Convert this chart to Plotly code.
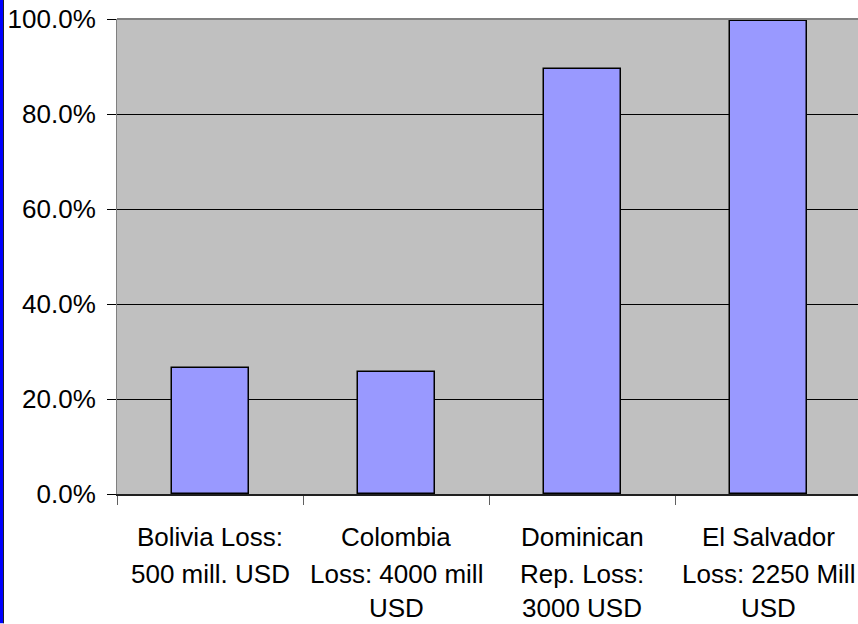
import plotly.graph_objects as go

# Share of GDP lost per country
categories = ["Bolivia", "Colombia", "Dominican Rep.", "El Salvador"]
label_lines = [
    ["Bolivia Loss:", "500 mill. USD"],
    ["Colombia", "Loss: 4000 mill", "USD"],
    ["Dominican", "Rep. Loss:", "3000 USD"],
    ["El Salvador", "Loss: 2250 Mill", "USD"],
]
loss_share = [0.266, 0.257, 0.894, 0.995]
y_ticks = [0, 0.2, 0.4, 0.6, 0.8, 1.0]

W, H = 858, 624
M_L, M_R, M_T, M_B = 117, 0, 19, 129.5
plot_w = W - M_L - M_R
plot_h = H - M_T - M_B
cat_px = 186  # pixel width of one category slot
FONT = "Arial, Liberation Sans, sans-serif"
FS = 26

fig = go.Figure(
    go.Bar(
        x=categories,
        y=loss_share,
        width=0.414,
        marker=dict(color="#9999FF", line=dict(color="#000000", width=1.5)),
    )
)

# multi-line category labels drawn line by line below the axis
line_offsets = [43, 79.5, 114]
annotations = []
for cat, lines in zip(categories, label_lines):
    for i, txt in enumerate(lines):
        annotations.append(
            dict(
                x=cat, xref="x", y=0, yref="paper",
                yanchor="middle", xanchor="center",
                yshift=-line_offsets[i],
                text=txt, showarrow=False,
                font=dict(family=FONT, size=FS, color="#000000"),
            )
        )

shapes = [
    # top border of the plot area
    dict(type="line", xref="paper", yref="paper", x0=0, x1=1, y0=1, y1=1,
         line=dict(color="#808080", width=2)),
    # blue strip along the left edge of the page
    dict(type="rect", xref="paper", yref="paper",
         x0=-M_L / plot_w, x1=-(M_L - 3) / plot_w,
         y0=-M_B / plot_h, y1=1 + M_T / plot_h,
         fillcolor="#0000FF", line=dict(width=0)),
    dict(type="line", xref="paper", yref="paper",
         x0=-(M_L - 3.5) / plot_w, x1=-(M_L - 3.5) / plot_w,
         y0=-M_B / plot_h, y1=1 + M_T / plot_h,
         line=dict(color="#202020", width=1)),
]

fig.update_layout(
    width=W, height=H,
    margin=dict(l=M_L, r=M_R, t=M_T, b=M_B, pad=0),
    paper_bgcolor="#FFFFFF",
    plot_bgcolor="#C0C0C0",
    showlegend=False,
    bargap=0,
    font=dict(family=FONT, size=FS, color="#000000"),
    annotations=annotations,
    shapes=shapes,
    xaxis=dict(
        type="category",
        range=[-0.5, -0.5 + plot_w / cat_px],
        showticklabels=False,
        tickson="boundaries",
        ticks="outside", ticklen=9, tickcolor="#606060", tickwidth=1,
        showgrid=False,
        showline=True, linecolor="#202020", linewidth=2,
        zeroline=False,
    ),
    yaxis=dict(
        range=[0, 1.0],
        tickvals=y_ticks,
        tickformat=".1%",
        ticks="outside", ticklen=9, tickcolor="#000000", tickwidth=1,
        ticklabelstandoff=6,
        showgrid=True, gridcolor="#000000", gridwidth=1,
        showline=True, linecolor="#808080", linewidth=1,
        zeroline=False,
        tickfont=dict(family=FONT, size=FS, color="#000000"),
    ),
)

fig.write_html("out.html")
